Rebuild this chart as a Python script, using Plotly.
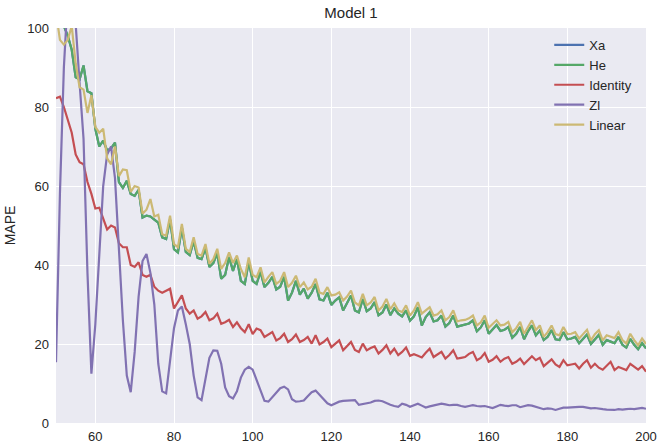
import plotly.graph_objects as go

x_values = list(range(50, 201))

he_values = [
    106, 103, 100.5, 98, 94.5, 87.5, 87, 90.5, 84, 83.5,
    74.5, 70, 71.5, 69, 69.5, 71, 61, 59.5, 61.3, 58,
    57.5, 59, 52, 52.5, 52.3, 51.5, 50.7, 47, 46.6, 51.5,
    44, 43.2, 49.5, 43.3, 42.5, 46, 41.8, 41.5, 44.3, 39.5,
    40.5, 43, 36.5, 37.5, 42, 38.5, 41.5, 36, 35.2, 40.8,
    36, 35.2, 38.3, 34.4, 35.5, 37, 33.8, 34.5, 37, 31,
    33, 36, 32.5, 34, 31.5, 33, 35.2, 31.3, 31, 33,
    29.9, 31, 31.8, 28.5, 30.5, 32.3, 28.5, 28, 31.4, 28.3,
    29, 30.6, 27.3, 28, 30, 27.3, 29, 27.7, 27, 28.5,
    25.9, 27, 29.3, 24.7, 26.8, 28, 25.7, 26, 27.2, 24.4,
    25.3, 27.2, 24.4, 24.7, 24.8, 25.2, 26, 23.2, 24.2, 26,
    22.6, 23.6, 24.8, 23.3, 23.6, 24.3, 21.6, 22.6, 24.3, 21.2,
    23.2, 24.7, 22.2, 23.4, 21, 21.8, 23.5, 21.2, 21, 23,
    21.2, 21.4, 21.8, 20.2, 21.2, 22.4, 20, 21.2, 22.3, 19.8,
    21, 20.6, 20.2, 21.8, 19.8, 19.1, 21.3, 19.8, 18.7, 20.2,
    18.9,
]

xa_values = list(he_values)

identity_values = [
    82.2, 82.6, 80, 76.5, 73.5, 68, 66, 65.5, 61, 58,
    54.3, 54.5, 52, 49, 50, 49.5, 45.5, 44.5, 44.5, 40,
    39.5, 40.7, 37.5, 37, 37.5, 34.5, 33.5, 33, 33.5, 34,
    29, 30.5, 32.3, 29, 27.7, 28.5, 26.4, 27, 28.1, 26,
    26.5, 27.7, 25.1, 25.5, 26.1, 24.3, 25.5, 24, 23, 25,
    22.5, 23.9, 23.5, 21.8, 22.5, 23, 20.9, 21.5, 22.6, 20.5,
    21.2, 22.4, 20.5, 21, 21.8, 20.1, 22.2, 19.9, 20.5, 21.4,
    19.2, 20, 20.9, 18.4, 19.5, 20.5, 18.5, 18, 20.1, 18.4,
    19, 19.4, 17.6, 18.5, 19.7, 17.6, 18.8, 17.2, 18, 19.1,
    17, 17.4, 17, 16.6, 17.8, 18.8, 16.7, 17.3, 18, 16.3,
    17.2, 18.4, 16.3, 16.5, 16.7, 17.5, 18, 15.9, 16.5, 17.7,
    15.5, 16, 16.9, 15.5, 16.3, 16.7, 15, 15.5, 16.3, 14.9,
    16, 16.9, 15.9, 16.5, 14.4, 15.3, 16.1, 14.8, 14.2, 15.9,
    14.6, 14.8, 15, 13.8, 15, 15.9, 14, 15, 14, 13.5,
    14.5, 15.5, 13.4, 14.2, 13.8, 13.4, 15, 14.2, 13.5, 14.4,
    13,
]

zl_values = [
    15.4, 58, 90, 108, 112, 101, 86, 72, 38, 12.5,
    25, 42, 60, 68, 70, 62, 44, 26, 12, 7.8,
    18, 32, 41, 42.8, 38, 30, 15, 8, 7.5, 16,
    24, 28.5, 29.5, 25, 20, 12, 6.5, 5.8, 11.5, 16.5,
    18.4, 18.3, 15, 9, 6.8, 6.2, 8, 11.5, 13.5, 14.2,
    13.5, 10.8, 8, 5.6, 5.4, 6.5, 7.8, 8.8, 9.2, 8.5,
    6, 5.4, 5.5, 5.7, 6.8, 7.8, 8.2, 7.2, 6.2, 5,
    4.5, 5, 5.4, 5.6, 5.7, 5.7, 5.8, 4.6, 4.8, 5,
    5.2, 5.6, 5.7, 5.5, 5, 4.6, 4.3, 4.1, 4.9, 4.6,
    4.1, 4.5, 4.9, 4.4, 3.9, 4.2, 4.5, 4.6, 4.9, 4.7,
    4.5, 4.6, 4.6, 4.3, 4.1, 4.3, 4.5, 4.3, 4.2, 4.3,
    4.0, 3.8, 4.2, 4.6, 4.4, 4.3, 4.5, 4.5, 4.0, 4.2,
    4.5, 4.4, 4.0, 3.8, 3.5, 3.7, 3.6, 3.3, 3.6, 3.9,
    3.9, 4.0, 4.0, 4.1, 4.1, 3.9, 3.7, 3.8, 3.6, 3.5,
    3.4, 3.4, 3.3, 3.5, 3.4, 3.5, 3.6, 3.5, 3.7, 3.8,
    3.6,
]

linear_values = [
    104, 97, 95.8, 97, 100.5, 91, 85, 84.4, 78.5, 83,
    75, 73.5, 74.5, 67, 65.5, 70, 62.5, 64.2, 64, 58.5,
    60, 59.6, 53, 54, 56.7, 52.3, 52.7, 47.8, 47.4, 52.5,
    45.3, 44.5, 50.4, 44.1, 43.3, 47, 42.8, 42.4, 45.3, 40.3,
    41.5, 44.1, 39, 40.5, 43.2, 40.5, 42.4, 39, 36.9, 41.9,
    37.5, 36.9, 39.4, 35.6, 37, 38.2, 35.2, 36, 38.2, 34.4,
    35.5, 37.3, 34.4, 35.6, 33.8, 34.5, 36.5, 33, 32.7, 34.4,
    32.3, 32.5, 33.1, 31, 32, 33.5, 30.5, 29.8, 32.7, 29.8,
    30.5, 31.9, 28.5, 29.5, 31.4, 28.8, 30.3, 28.5, 28.1, 29.8,
    27.2, 28.5, 30.6, 27.7, 28.5, 29.3, 27.2, 27.5, 28.5, 26,
    26.8, 28.5, 25.7, 26, 26.1, 26.5, 27.2, 24.7, 25.5, 27.2,
    24.1, 25, 26, 24.7, 24.9, 25.6, 23, 24, 25.6, 22.6,
    24.5, 26, 23.5, 24.7, 21.8, 23, 24.7, 22.5, 22.2, 24.3,
    22.5, 22.6, 23, 21.4, 22.5, 23.6, 20.9, 22.5, 23.5, 20.9,
    22.2, 21.8, 21.5, 23, 21, 20.1, 22.6, 21, 19.7, 21.4,
    20,
]

series_names = ["Xa", "He", "Identity", "Zl", "Linear"]
series_values = [xa_values, he_values, identity_values, zl_values, linear_values]
series_colors = ["#4C72B0", "#55A868", "#C44E52", "#8172B2", "#CCB974"]

x_ticks = [60, 80, 100, 120, 140, 160, 180, 200]
y_ticks = [0, 20, 40, 60, 80, 100]

font_family = "Liberation Sans, Arial, DejaVu Sans, sans-serif"
text_color = "#262626"

fig = go.Figure()
for name, vals, color in zip(series_names, series_values, series_colors):
    fig.add_trace(go.Scatter(
        x=x_values, y=vals, name=name, mode="lines",
        line=dict(color=color, width=2.2),
    ))

fig.update_layout(
    width=657, height=448,
    margin=dict(l=56, r=11, t=28, b=25),
    paper_bgcolor="white",
    plot_bgcolor="#EAEAF2",
    font=dict(family=font_family, size=13, color=text_color),
    title=dict(text="Model 1", x=0.5, xref="paper", xanchor="center",
               y=1 - 13 / 448, yanchor="middle",
               font=dict(size=15, color=text_color)),
    showlegend=True,
    legend=dict(
        x=0.836, y=0.995, xanchor="left", yanchor="top",
        bgcolor="rgba(0,0,0,0)", borderwidth=0,
        font=dict(size=13, color=text_color),
        itemwidth=30, tracegroupgap=0,
    ),
    xaxis=dict(
        range=[50, 200], tickmode="array", tickvals=x_ticks,
        showgrid=True, gridcolor="white", gridwidth=1.3,
        zeroline=False, showline=False, ticks="",
        ticklabelstandoff=4, automargin=False,
        tickfont=dict(size=13, color=text_color),
    ),
    yaxis=dict(
        range=[0, 100], tickmode="array", tickvals=y_ticks,
        showgrid=True, gridcolor="white", gridwidth=1.3,
        zeroline=False, showline=False, ticks="",
        ticklabelstandoff=6, automargin=False,
        title=dict(text="MAPE", standoff=8, font=dict(size=14, color=text_color)),
        tickfont=dict(size=13, color=text_color),
    ),
)

fig.write_html(
    "out.html",
    config={"displayModeBar": False},
    post_script="document.body.style.margin='0px';",
)
